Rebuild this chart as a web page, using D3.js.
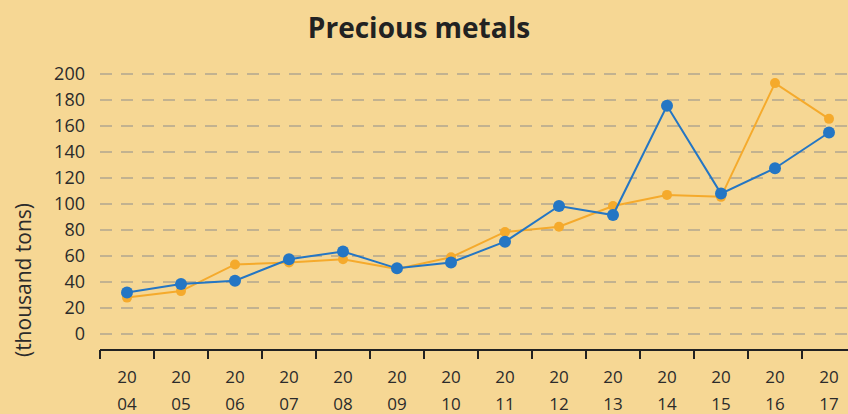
<!DOCTYPE html>
<html>
<head>
<meta charset="utf-8">
<script src="https://cdn.jsdelivr.net/npm/d3@7"></script>
<style>
  body { margin: 0; background: #f6d794; }
  svg { display: block; font-family: "Open Sans", sans-serif; }
</style>
</head>
<body>
<div id="chart"></div>
<script>
const width = 848;
const height = 414;

// data
const years = ["2004", "2005", "2006", "2007", "2008", "2009", "2010",
  "2011", "2012", "2013", "2014", "2015", "2016", "2017"];
const blueValues = [32, 38.5, 41, 57.5, 63.5, 50.5, 55, 71, 98.5, 91.5, 175.5, 108, 127.5, 155];
const orangeValues = [28, 33, 53.5, 55, 57.5, 50, 59, 78.5, 82.5, 98.5, 107, 105.5, 193, 165.5];
const yTicks = [0, 20, 40, 60, 80, 100, 120, 140, 160, 180, 200];

const svg = d3.select("#chart")
  .append("svg")
  .attr("width", width)
  .attr("height", height);

svg.append("rect")
  .attr("width", width)
  .attr("height", height)
  .attr("fill", "#f6d794");

// scales
const xScale = d3.scaleBand()
  .domain(years)
  .range([100, 856]);

const yScale = d3.scaleLinear()
  .domain([0, 200])
  .range([334, 74]);

// grid
svg.append("g")
  .selectAll("line")
  .data(yTicks)
  .join("line")
  .attr("x1", 100)
  .attr("x2", width)
  .attr("y1", d => yScale(d))
  .attr("y2", d => yScale(d))
  .attr("stroke", "#c2b290")
  .attr("stroke-width", 2)
  .attr("stroke-dasharray", "12 9");

// y tick labels
svg.append("g")
  .selectAll("text")
  .data(yTicks)
  .join("text")
  .attr("x", 85)
  .attr("y", d => yScale(d))
  .attr("dy", "0.35em")
  .attr("text-anchor", "end")
  .attr("font-size", 18)
  .attr("fill", "#2b2b2b")
  .text(d => d);

// x axis
const xAxis = svg.append("g")
  .attr("transform", "translate(0, 350)")
  .call(d3.axisBottom(xScale).tickSize(9).tickValues([]));

xAxis.select(".domain")
  .attr("d", "M100,0H856")
  .attr("stroke", "#222")
  .attr("stroke-width", 2);

xAxis.selectAll(".edge")
  .data(years)
  .join("line")
  .attr("x1", d => xScale(d))
  .attr("x2", d => xScale(d))
  .attr("y1", 0)
  .attr("y2", 9)
  .attr("stroke", "#222")
  .attr("stroke-width", 2);

const xLabels = svg.append("g")
  .selectAll("text")
  .data(years)
  .join("text")
  .attr("x", d => xScale(d) + xScale.bandwidth() / 2)
  .attr("text-anchor", "middle")
  .attr("font-size", 17)
  .attr("fill", "#2b2b2b");

xLabels.append("tspan")
  .attr("x", d => xScale(d) + xScale.bandwidth() / 2)
  .attr("y", 383)
  .text(d => d.slice(0, 2));

xLabels.append("tspan")
  .attr("x", d => xScale(d) + xScale.bandwidth() / 2)
  .attr("y", 410)
  .text(d => d.slice(2));

// lines
const drawSeries = (values, color, r) => {
  const pts = years.map((y, i) => ({ year: y, value: values[i] }));
  const line = d3.line()
    .x(d => xScale(d.year) + xScale.bandwidth() / 2)
    .y(d => yScale(d.value));

  svg.append("path")
    .datum(pts)
    .attr("d", line)
    .attr("fill", "none")
    .attr("stroke", color)
    .attr("stroke-width", 2);

  svg.append("g")
    .selectAll("circle")
    .data(pts)
    .join("circle")
    .attr("cx", d => xScale(d.year) + xScale.bandwidth() / 2)
    .attr("cy", d => yScale(d.value))
    .attr("r", r)
    .attr("fill", color);
};

drawSeries(orangeValues, "#f5aa2c", 5);
drawSeries(blueValues, "#2476c4", 6);

// title
svg.append("text")
  .attr("x", 419)
  .attr("y", 38)
  .attr("text-anchor", "middle")
  .attr("font-size", 28)
  .attr("font-weight", "bold")
  .attr("fill", "#222")
  .text("Precious metals");

// y label
svg.append("text")
  .attr("transform", "rotate(-90)")
  .attr("x", -280)
  .attr("y", 31)
  .attr("text-anchor", "middle")
  .attr("font-size", 21)
  .attr("fill", "#2b2b2b")
  .text("(thousand tons)");
</script>
</body>
</html>
